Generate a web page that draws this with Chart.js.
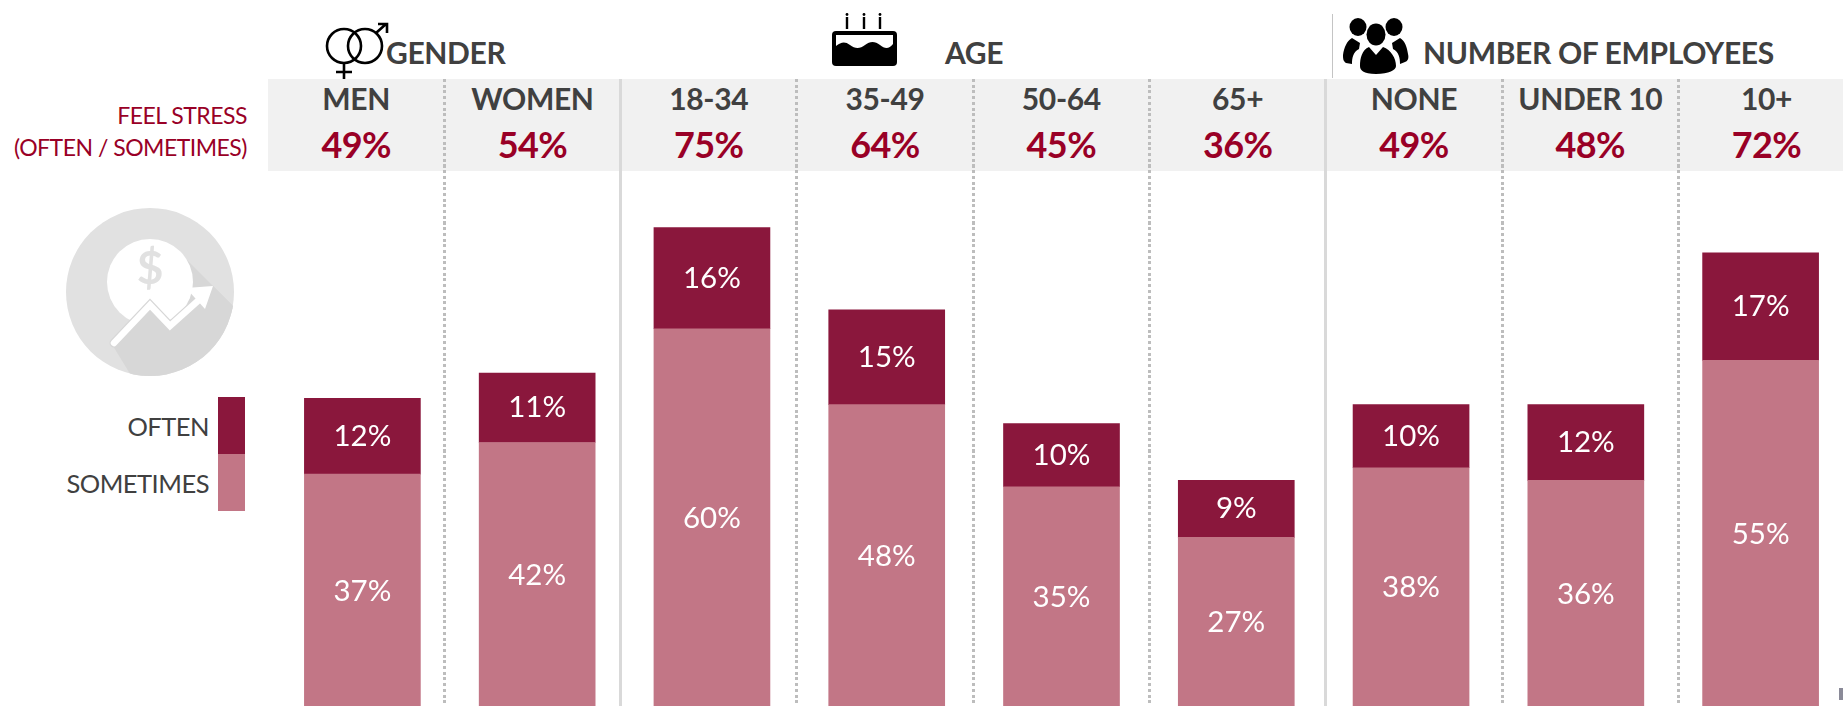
<!DOCTYPE html>
<html>
<head>
<meta charset="utf-8">
<title>Feel stress</title>
<script src="https://cdn.jsdelivr.net/npm/chart.js@4"></script>
<style>
    html, body { margin: 0; padding: 0; background: #fff; overflow: hidden; width: 1843px; height: 706px; }
    body { position: relative; font-family: Lato, sans-serif; color: #404040; }
    #chartBox { position: absolute; left: 0; top: 0; width: 1850px; height: 708px; z-index: 2; }
    #icons { position: absolute; left: 0; top: 0; z-index: 3; }
    .band { position: absolute; left: 268px; right: 0; top: 79px; height: 92px; background: #f1f1f1; }
    .cols { position: absolute; left: 268px; top: 79px; display: grid; grid-template-columns: repeat(9, 176.3px); height: 92px; }
    .cols div { text-align: center; position: relative; white-space: nowrap; }
    .cat { position: absolute; left: 0; right: 0; top: 1px; font-size: 30px; font-weight: 700; line-height: 36px; letter-spacing: -0.35px; }
    .pct { position: absolute; left: 0; right: 0; top: 44px; font-size: 36px; font-weight: 700; line-height: 42px; color: #990026; letter-spacing: -0.6px; }
    .sep { position: absolute; top: 79px; height: 627px; width: 3px; background: repeating-linear-gradient(#bdbdbd 0 3px, transparent 3px 5.7px); }
    .sep.solid { background: #d9d9d9; }
    .head { position: absolute; top: 34px; font-size: 30px; line-height: 36px; font-weight: 700; letter-spacing: -0.35px; white-space: nowrap; }
    .divider { position: absolute; left: 1332px; top: 14px; width: 1px; height: 64px; background: #c4c4c4; }
    .stress { position: absolute; right: 1596px; font-size: 23px; line-height: 30px; color: #990026; white-space: nowrap; letter-spacing: -0.5px; }
    .key { position: absolute; right: 1634px; font-size: 25.5px; line-height: 30px; white-space: nowrap; letter-spacing: -0.5px; }
    .swatch { position: absolute; left: 218px; width: 27px; height: 57px; }
    .speck { position: absolute; left: 1839px; top: 688px; width: 4px; height: 12px; background: #8a8a98; }
</style>
</head>
<body>
<div class="band"></div>
<div class="cols" id="cols"></div>

<div class="head" style="left:386px">GENDER</div>
<div class="head" style="left:945px">AGE</div>
<div class="head" style="left:1423px">NUMBER OF EMPLOYEES</div>
<div class="divider"></div>

<div class="stress" style="top:100px">FEEL STRESS</div>
<div class="stress" style="top:132px">(OFTEN / SOMETIMES)</div>

<div class="key" style="top:411px" id="keyOften"></div>
<div class="key" style="top:468px" id="keySometimes"></div>
<div class="swatch" style="top:397px" id="swatchOften"></div>
<div class="swatch" style="top:454px" id="swatchSometimes"></div>
<div class="speck"></div>

<div id="chartBox"><canvas id="stressChart" width="1850" height="708"></canvas></div>

<svg id="icons" width="1843" height="706" xmlns="http://www.w3.org/2000/svg">
    <!-- gender symbols -->
    <g fill="none" stroke="#000" stroke-width="2.6">
        <circle cx="344" cy="46" r="17"/>
        <circle cx="365" cy="46" r="17"/>
        <path d="M344 63V79M336 72H352"/>
        <path d="M376 33L386 24M378 24H387V33"/>
    </g>
    <!-- cake -->
    <rect x="832" y="31" width="65" height="35" rx="4" fill="#000"/>
    <path d="M836 35H893V44C889 49 885 49 880 45C875 41 870 41 865 45C860 49 855 49 850 45C845 41 841 42 836 46Z" fill="#fff"/>
    <g stroke="#000" stroke-width="2.4">
        <path d="M847 17V29M864 17V29M880 17V29"/>
    </g>
    <g fill="#000">
        <circle cx="847" cy="14.5" r="1.4"/>
        <circle cx="864" cy="14.5" r="1.4"/>
        <circle cx="880" cy="14.5" r="1.4"/>
    </g>
    <!-- people -->
    <g fill="#000">
        <ellipse cx="1358" cy="27" rx="8.5" ry="9"/>
        <ellipse cx="1394" cy="27" rx="8.5" ry="9"/>
        <path d="M1352 38L1360 43L1359 49C1353 52 1352 58 1352 64L1346 63C1343 61 1343 58 1343 55C1344 47 1347 41 1352 38Z"/>
        <path d="M1400 38L1392 43L1393 49C1399 52 1400 58 1400 64L1405 62C1408 61 1409 58 1408 54C1407 47 1405 41 1400 38Z"/>
        <ellipse cx="1376" cy="34.5" rx="9.5" ry="11"/>
        <path d="M1369 47L1376 55L1383 47C1391 50 1396 58 1396 66C1396 70 1389 74 1376 74C1363 74 1360 70 1360 66C1360 58 1362 50 1369 47Z"/>
    </g>
    <!-- money badge: shadow wedge behind the coin, lower shadow in front of it -->
    <defs><clipPath id="badge"><circle cx="150" cy="292" r="84"/></clipPath></defs>
    <circle cx="150" cy="292" r="84" fill="#e1e1e1"/>
    <path d="M180 253L240 313L190 320Z" fill="#d7d7d7" clip-path="url(#badge)"/>
    <circle cx="150" cy="282" r="43" fill="#fff"/>
    <path d="M213 286L240 313V400H146L113 346L150 303L170 325L200 298Z" fill="#d7d7d7" clip-path="url(#badge)"/>
    <text x="150" y="284" text-anchor="middle" font-family="Lato" font-weight="700" font-size="46" fill="#e1e1e1">$</text>
    <path d="M114 343L150 305L170 326L200 299" fill="none" stroke="#d7d7d7" stroke-width="9" stroke-linecap="round"/>
    <path d="M114 343L150 305L170 326L200 299" fill="none" stroke="#fff" stroke-width="6.5" stroke-linecap="round"/>
    <path d="M186 288L213 286L205 309Z" fill="#fff"/>
</svg>

<script>
// stress by group, in percent
var categories = ["MEN", "WOMEN", "18-34", "35-49", "50-64", "65+", "NONE", "UNDER 10", "10+"];
var stressTotals = [49, 54, 75, 64, 45, 36, 49, 48, 72];
var sometimesValues = [37, 42, 60, 48, 35, 27, 38, 36, 55];
var oftenValues = [12, 11, 16, 15, 10, 9, 10, 12, 17];
var groupStarts = [2, 6];

var oftenLabel = "OFTEN";
var sometimesLabel = "SOMETIMES";
var oftenColor = "#8a173c";
var sometimesColor = "#c27686";

// header row and the column separators
var cols = document.getElementById("cols");
categories.forEach((name, i) => {
    var cell = document.createElement("div");
    cell.innerHTML = '<span class="cat">' + name + '</span><span class="pct">' + stressTotals[i] + '%</span>';
    cols.appendChild(cell);

    if (i > 0) {
        var sep = document.createElement("div");
        sep.className = groupStarts.includes(i) ? "sep solid" : "sep";
        sep.style.left = (268 + i * 176.3 - 1.5) + "px";
        document.body.appendChild(sep);
    }
});

document.getElementById("keyOften").textContent = oftenLabel;
document.getElementById("keySometimes").textContent = sometimesLabel;
document.getElementById("swatchOften").style.background = oftenColor;
document.getElementById("swatchSometimes").style.background = sometimesColor;

// writes each value in the middle of its bar segment
var barValues = {
    id: "barValues",
    afterDatasetsDraw(chart) {
        var ctx = chart.ctx;
        ctx.save();
        ctx.font = "29.5px Lato";
        ctx.fillStyle = "#fff";
        ctx.textAlign = "center";
        ctx.textBaseline = "middle";
        chart.data.datasets.forEach((dataset, d) => {
            chart.getDatasetMeta(d).data.forEach((bar, i) => {
                ctx.fillText(dataset.data[i] + "%", bar.x, (bar.y + bar.base) / 2);
            });
        });
        ctx.restore();
    }
};

new Chart(document.getElementById("stressChart"), {
    type: "bar",
    data: {
        labels: categories,
        datasets: [
            { label: sometimesLabel, data: sometimesValues, backgroundColor: sometimesColor, borderWidth: 0, barThickness: 116 },
            { label: oftenLabel, data: oftenValues, backgroundColor: oftenColor, borderWidth: 0, barThickness: 116 }
        ]
    },
    options: {
        responsive: false,
        animation: false,
        layout: { padding: { left: 275, right: 2, top: 0, bottom: 0 } },
        plugins: {
            legend: { display: false },
            tooltip: { enabled: false }
        },
        scales: {
            x: { stacked: true, display: false },
            y: { stacked: true, display: false, min: 0, max: 112 }
        }
    },
    plugins: [barValues]
});
</script>
</body>
</html>
